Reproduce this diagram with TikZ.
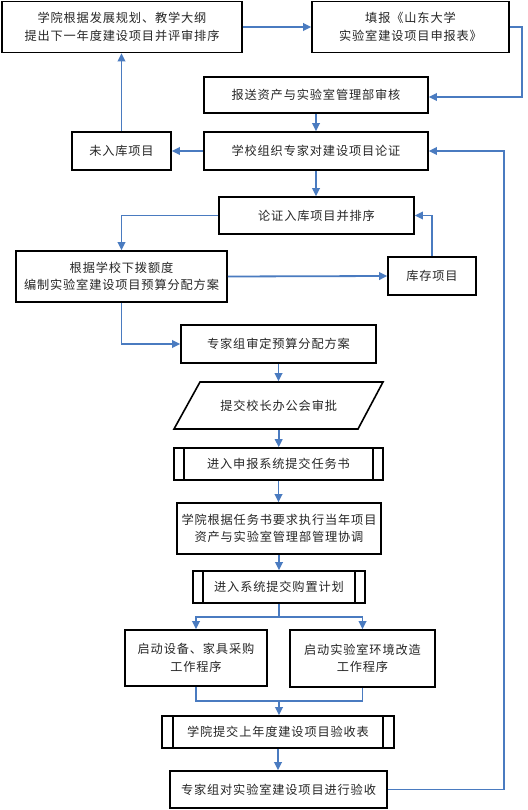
\documentclass[tikz,border=0pt]{standalone}
\usepackage{fontspec}
\newfontfamily\cjk{Noto Sans CJK SC}[LetterSpace=7]
\usetikzlibrary{arrows.meta,calc}
\definecolor{lineblue}{HTML}{4A7BC0}
\begin{document}
\begin{tikzpicture}[x=1pt,y=-1pt,
  box/.style={draw=black,line width=1.6pt,fill=white,inner sep=0pt,align=center,
    font=\cjk\fontsize{12.2}{17.5}\selectfont,text=black!85},
  conn/.style={draw=lineblue,line width=1.8pt},
  arr/.style={conn,-{Triangle[length=8pt,width=7.5pt]}}]
\useasboundingbox[fill=white] (0,0) rectangle (527,810);
% nodes
\node[box,minimum width=240pt,minimum height=51pt] (b1) at (122,27) {学院根据发展规划、教学大纲\\提出下一年度建设项目并评审排序};
\node[box,minimum width=197pt,minimum height=51pt] (b2) at (410.5,27) {填报《山东大学\\实验室建设项目申报表》};
\node[box,minimum width=224pt,minimum height=36pt] (b3) at (316,95) {报送资产与实验室管理部审核};
\node[box,minimum width=224pt,minimum height=38pt] (b4) at (316,151) {学校组织专家对建设项目论证};
\node[box,minimum width=99pt,minimum height=38pt] (nr) at (121.5,151) {未入库项目};
\node[box,minimum width=195pt,minimum height=37pt] (b5) at (316.5,215.5) {论证入库项目并排序};
\node[box,minimum width=211pt,minimum height=51pt] (b6) at (121.5,276.5) {根据学校下拨额度\\编制实验室建设项目预算分配方案};
\node[box,minimum width=88pt,minimum height=38pt] (kc) at (432,276) {库存项目};
\node[box,minimum width=195pt,minimum height=38pt] (b7) at (278.5,344) {专家组审定预算分配方案};
\draw[line width=1.6pt,black] (174,429) -- (200,382) -- (383,382) -- (358,429) -- cycle;
\node[box,draw=none,fill=none,minimum width=183pt,minimum height=47pt] (p) at (278.7,405.5) {提交校长办公会审批};
\node[box,minimum width=209pt,minimum height=32pt] (b8) at (278.5,464) {进入申报系统提交任务书};
\node[box,minimum width=204pt,minimum height=51pt] (b9) at (279,528.5) {学院根据任务书要求执行当年项目\\资产与实验室管理部管理协调};
\node[box,minimum width=172pt,minimum height=32pt] (b10) at (279,587) {进入系统提交购置计划};
\node[box,minimum width=142pt,minimum height=56pt] (b11) at (196,658) {启动设备、家具采购\\工作程序};
\node[box,minimum width=145pt,minimum height=57pt] (b12) at (362.5,658.5) {启动实验室环境改造\\工作程序};
\node[box,minimum width=232pt,minimum height=32pt] (b13) at (278,732) {学院提交上年度建设项目验收表};
\node[box,minimum width=217pt,minimum height=37pt] (b14) at (278.5,789.5) {专家组对实验室建设项目进行验收};
% predefined-process inner lines
\foreach \n/\d in {b8/11,b10/11,b13/12}{
  \draw[line width=1.6pt] ([xshift=\d pt]\n.north west) -- ([xshift=\d pt]\n.south west);
  \draw[line width=1.6pt] ([xshift=-\d pt]\n.north east) -- ([xshift=-\d pt]\n.south east);
}
% connectors
\draw[arr] (b1.east) -- (b2.west);
\draw[arr] (b2.east) -- ++(12,0) |- ([yshift=-2pt]b3.east);
\draw[arr] (b3.south) -- (b3.south |- b4.north);
\draw[arr] (b4.west) -- (nr.east);
\draw[arr] (nr.north) -- (nr.north |- b1.south);
\draw[arr] (b4.south) -- (b4.south |- b5.north);
\draw[arr] (b5.west) -| (b6.north);
\draw[arr] (b6.east) -- (kc.west);
\draw[arr] (kc.north) |- (b5.east);
\draw[arr] (b6.south) |- (b7.west);
\draw[arr] (b7.south) -- (b7.south |- p.north);
\draw[arr] (p.south) -- (p.south |- b8.north);
\draw[arr] (b8.south) -- (b8.south |- b9.north);
\draw[arr] (b9.south) -- (b9.south |- b10.north);
\coordinate (sp) at (279,617);
\draw[conn] (b10.south) -- (sp);
\draw[arr] (sp) -| (b11.north);
\draw[arr] (sp) -| (b12.north);
\coordinate (mg) at (279,701);
\draw[conn] (b11.south) |- (mg) -| (b12.south);
\draw[arr] (mg) -- (mg |- b13.north);
\draw[arr] (b13.south) -- (b13.south |- b14.north);
\draw[arr] (b14.east) -- ++(116,0) |- (b4.east);
\end{tikzpicture}
\end{document}
